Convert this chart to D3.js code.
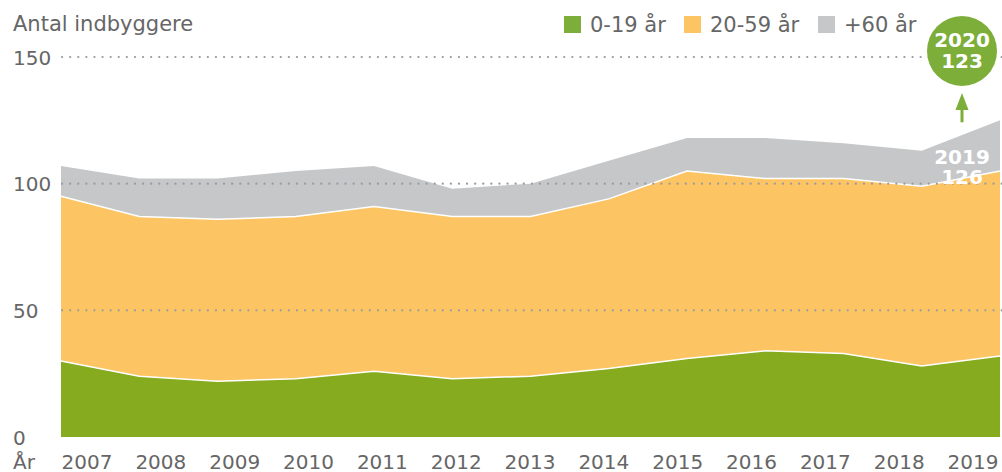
<!DOCTYPE html>
<html>
<head>
<meta charset="utf-8">
<script src="https://cdn.jsdelivr.net/npm/d3@7"></script>
<style>
  body { margin: 0; background: #fff; }
  svg { display: block; }
  text { font-family: Verdana, "DejaVu Sans", sans-serif; }
</style>
</head>
<body>
<script>
  const years = [2007, 2008, 2009, 2010, 2011, 2012, 2013, 2014, 2015, 2016, 2017, 2018, 2019];
  const young = [30, 24, 22, 23, 26, 23, 24, 27, 31, 34, 33, 28, 32];
  const adults = [65, 63, 64, 64, 65, 64, 63, 67, 74, 68, 69, 71, 73];
  const seniors = [12, 15, 16, 18, 16, 11, 13, 15, 13, 16, 14, 14, 20];
  const seriesKeys = ['young', 'adults', 'seniors'];
  const seriesNames = ['0-19 år', '20-59 år', '+60 år'];
  const areaColors = ['#86ab1f', '#fdc463', '#c6c7c9'];
  const swatchColors = ['#7cae39', '#fdc463', '#c6c7c9'];
  const yTicks = [0, 50, 100, 150];
  const lastLabel = ['2019', '126'];
  const bubbleLabel = ['2020', '123'];

  const width = 1002;
  const height = 472;
  const textColor = '#666';

  const table = years.map((yr, i) => ({
    year: yr,
    young: young[i],
    adults: adults[i],
    seniors: seniors[i],
  }));

  const svg = d3.select('body')
    .append('svg')
    .attr('width', width)
    .attr('height', height);

  // data positions and label positions don't line up in the original
  const x = d3.scalePoint()
    .domain(years)
    .range([61, 1000]);

  const xLabel = d3.scalePoint()
    .domain(years)
    .range([87, 973]);

  const y = d3.scaleLinear()
    .domain([0, 150])
    .range([437, 57]);

  const stacked = d3.stack().keys(seriesKeys)(table);

  const area = d3.area()
    .x((d) => x(d.data.year))
    .y0((d) => y(d[0]))
    .y1((d) => y(d[1]));

  svg.append('g')
    .selectAll('path')
    .data(stacked)
    .join('path')
    .attr('fill', (d, i) => areaColors[i])
    .attr('d', area);

  // white edges between layers
  const edge = d3.line()
    .x((d) => x(d.data.year))
    .y((d) => y(d[1]));

  svg.append('g')
    .selectAll('path')
    .data(stacked.slice(0, 2))
    .join('path')
    .attr('fill', 'none')
    .attr('stroke', '#fff')
    .attr('stroke-width', 1.5)
    .attr('d', edge);

  // dotted grid
  svg.append('g')
    .selectAll('line')
    .data(yTicks.filter((t) => t > 0))
    .join('line')
    .attr('x1', x.range()[0] + 1)
    .attr('x2', width)
    .attr('y1', (d) => y(d))
    .attr('y2', (d) => y(d))
    .attr('stroke', '#989ca1')
    .attr('stroke-width', 2.2)
    .attr('stroke-linecap', 'round')
    .attr('stroke-dasharray', '0.1,8');

  // y axis labels
  svg.append('g')
    .selectAll('text')
    .data(yTicks)
    .join('text')
    .attr('x', 13)
    .attr('y', (d) => y(d) + 7.5)
    .attr('font-size', 20)
    .attr('fill', textColor)
    .text((d) => d);

  svg.append('text')
    .attr('x', 13)
    .attr('y', 31)
    .attr('font-size', 21)
    .attr('fill', textColor)
    .text('Antal indbyggere');

  // x axis labels
  svg.append('g')
    .selectAll('text')
    .data(years)
    .join('text')
    .attr('x', (d) => xLabel(d))
    .attr('y', 469)
    .attr('text-anchor', 'middle')
    .attr('font-size', 20)
    .attr('fill', textColor)
    .text((d) => d);

  svg.append('text')
    .attr('x', 13)
    .attr('y', 469)
    .attr('font-size', 20)
    .attr('fill', textColor)
    .text('År');

  // legend
  const legendX = [564, 684, 818];
  const legend = svg.append('g')
    .selectAll('g')
    .data(seriesNames)
    .join('g')
    .attr('transform', (d, i) => `translate(${legendX[i]},16)`);

  legend.append('rect')
    .attr('width', 17)
    .attr('height', 17)
    .attr('fill', (d, i) => swatchColors[i]);

  legend.append('text')
    .attr('x', 26)
    .attr('y', 16)
    .attr('font-size', 21)
    .attr('fill', textColor)
    .text((d) => d);

  // callouts at the end of the series
  const last = table[table.length - 1];
  const lastTotal = last.young + last.adults + last.seniors;
  const cx = x(last.year) - 38;
  const r = 35;
  const cy = y(150) - 6;
  const green = swatchColors[0];

  svg.append('line')
    .attr('x1', cx)
    .attr('x2', cx)
    .attr('y1', y(lastTotal) + 2)
    .attr('y2', cy + r + 20)
    .attr('stroke', green)
    .attr('stroke-width', 3);

  svg.append('path')
    .attr('d', `M${cx - 6.5},${cy + r + 24}L${cx},${cy + r + 7}L${cx + 6.5},${cy + r + 24}Z`)
    .attr('fill', green);

  svg.append('circle')
    .attr('cx', cx)
    .attr('cy', cy)
    .attr('r', r)
    .attr('fill', green);

  svg.append('g')
    .selectAll('text')
    .data(bubbleLabel)
    .join('text')
    .attr('x', cx)
    .attr('y', (d, i) => cy - 4 + i * 21)
    .attr('text-anchor', 'middle')
    .attr('font-size', 20)
    .attr('font-weight', 'bold')
    .attr('fill', '#fff')
    .text((d) => d);

  svg.append('g')
    .selectAll('text')
    .data(lastLabel)
    .join('text')
    .attr('x', cx)
    .attr('y', (d, i) => y(100) - 20 + i * 20)
    .attr('text-anchor', 'middle')
    .attr('font-size', 20)
    .attr('font-weight', 'bold')
    .attr('fill', '#fff')
    .text((d) => d);
</script>
</body>
</html>
